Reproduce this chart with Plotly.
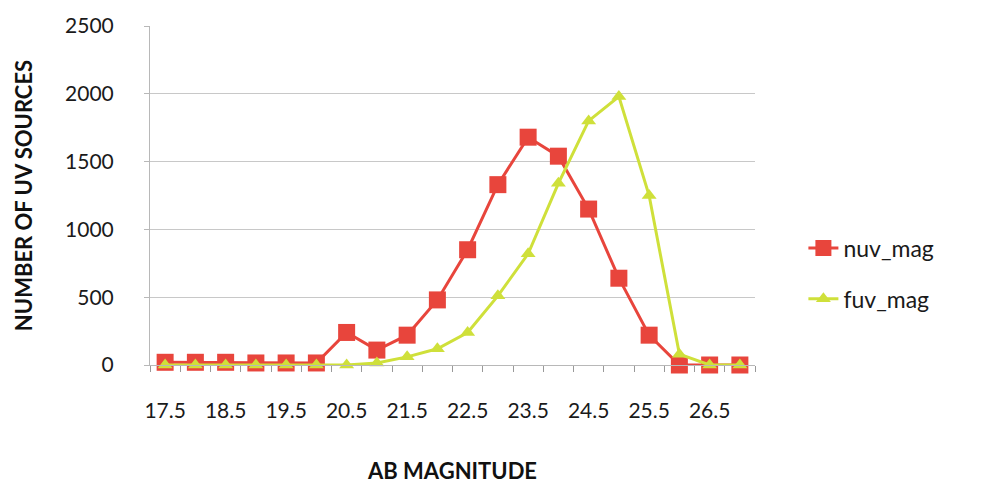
import plotly.graph_objects as go

# AB magnitude bins (0.5 mag wide)
magnitudes = [17.5, 18.0, 18.5, 19.0, 19.5, 20.0, 20.5, 21.0, 21.5, 22.0,
              22.5, 23.0, 23.5, 24.0, 24.5, 25.0, 25.5, 26.0, 26.5, 27.0]

# Source counts per bin
nuv_mag = [20, 20, 20, 15, 15, 15, 240, 110, 220, 480,
           850, 1330, 1680, 1540, 1150, 640, 220, 0, 0, 0]
fuv_mag = [0, 0, 0, 0, 0, 0, 0, 15, 60, 120,
           240, 510, 820, 1340, 1800, 1980, 1250, 80, 0, 0]

# Labelled ticks every other bin
tick_vals = [17.5, 18.5, 19.5, 20.5, 21.5, 22.5, 23.5, 24.5, 25.5, 26.5]
tick_text = ["17.5", "18.5", "19.5", "20.5", "21.5", "22.5", "23.5", "24.5", "25.5", "26.5"]

RED = "#e8453c"
GREEN = "#cfe03a"
FONT = "Lato, 'Open Sans', sans-serif"

fig = go.Figure()
fig.add_trace(go.Scatter(
    x=magnitudes, y=nuv_mag, name="nuv_mag", mode="lines+markers",
    legendgroup="nuv",
    line=dict(color=RED, width=3),
    marker=dict(symbol="square", size=17, color=RED),
    cliponaxis=False,
))
fig.add_trace(go.Scatter(
    x=magnitudes, y=fuv_mag, name="fuv_mag", mode="lines+markers",
    legendgroup="fuv",
    line=dict(color=GREEN, width=3),
    marker=dict(symbol="triangle-up", size=13, color=GREEN),
    cliponaxis=False,
))

fig.update_layout(
    width=985, height=492,
    margin=dict(l=150, r=230, t=25, b=124),
    paper_bgcolor="white", plot_bgcolor="white",
    font=dict(family=FONT, size=20, color="#333333"),
    showlegend=True,
    legend=dict(x=1.08, y=0.27, xanchor="left", yanchor="middle",
                font=dict(size=23, color="#1a1a1a"),
                bgcolor="rgba(0,0,0,0)", tracegroupgap=18,
                traceorder="grouped"),
    xaxis=dict(
        range=[17.25, 27.25], tickvals=tick_vals, ticktext=tick_text,
        showgrid=False, zeroline=False,
        showline=True, linecolor="#b8b8b8", linewidth=1,
        ticks="", ticklabelstandoff=27,
        minor=dict(dtick=0.5, tick0=17.25, ticks="outside", ticklen=6,
                   tickcolor="#999999", showgrid=False),
        title=dict(text="<b>AB MAGNITUDE</b>", font=dict(size=22, color="#111111"),
                   standoff=42),
        tickfont=dict(size=21, color="#1a1a1a"),
    ),
    yaxis=dict(
        range=[0, 2500], dtick=500, tick0=0,
        showgrid=True, gridcolor="#c8c8c8", gridwidth=1,
        zeroline=False, showline=True, linecolor="#b8b8b8", linewidth=1,
        ticks="outside", ticklen=5, tickcolor="#b8b8b8",
        ticklabelstandoff=26,
        title=dict(text="<b>NUMBER OF UV SOURCES</b>", font=dict(size=22, color="#111111"),
                   standoff=26),
        tickfont=dict(size=21, color="#1a1a1a"),
    ),
)

fig.write_html("out.html")
